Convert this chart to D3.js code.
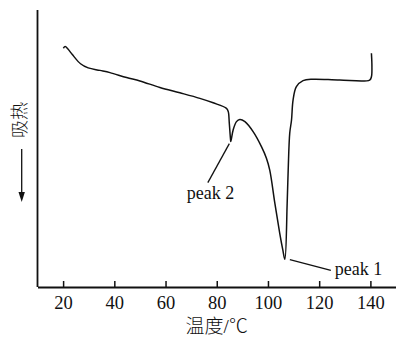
<!DOCTYPE html>
<html>
<head>
<meta charset="utf-8">
<script src="https://cdn.jsdelivr.net/npm/d3@7"></script>
<style>
  body { margin: 0; background: #fff; }
  svg text { fill: #111; }
</style>
</head>
<body>
<div id="chart"></div>
<script>
// DSC curve: temperature (°C) vs heat flow (arbitrary units)
const temps = [20.1, 20.8, 21.9, 23.6, 26.8, 29.8, 34.4, 38.3, 44.8, 50.0, 57.8, 65.6,
  73.4, 78.6, 83.8, 84.5, 84.9, 85.4, 85.5, 86.4, 87.7, 89.0, 91.0, 94.2, 97.5, 99.4, 100.7,
  102.7, 104.6, 105.8, 106.6, 107.5, 107.9, 108.5, 109.2, 109.8, 111.1, 113.7, 117.6, 128.0,
  139.7, 140.4, 140.6, 140.4];
const heatFlow = [86.2, 86.8, 85.9, 83.9, 80.6, 79.1, 78.2, 77.4, 75.6, 74.4, 72.0, 70.1,
  68.1, 66.5, 64.5, 63.3, 59.1, 53.1, 52.5, 56.7, 59.7, 60.5, 59.7, 56.1, 50.6, 46.5, 42.2,
  30.2, 19.4, 13.4, 10.0, 30.2, 42.2, 55.5, 60.3, 67.5, 72.3, 74.5, 75.0, 74.7,
  74.7, 75.9, 79.5, 84.4];
const xTicks = [20, 40, 60, 80, 100, 120, 140];
const peakNames = ['peak 2', 'peak 1'];
const peakTemps = [85.5, 106.6];
const peakFlows = [52.5, 10.0];

const width = 396, height = 340;
const margin = { top: 10, right: 0, bottom: 53, left: 37.5 };

const svg = d3.select('#chart')
  .append('svg')
  .attr('width', width)
  .attr('height', height);

const x = d3.scaleLinear()
  .domain([10, 150])
  .range([margin.left, width - margin.right]);
const y = d3.scaleLinear()
  .domain([0, 100])
  .range([height - margin.bottom, margin.top]);

const serif = '"Liberation Serif", "Times New Roman", serif';
const cjk = '"Noto Sans CJK SC", sans-serif';

// x axis, ticks pointing inward
svg.append('g')
  .attr('transform', 'translate(0,' + (height - margin.bottom) + ')')
  .call(d3.axisBottom(x).tickValues(xTicks).tickSizeInner(-6).tickSizeOuter(0).tickPadding(9))
  .call(g => g.select('.domain').attr('stroke', '#111').attr('stroke-width', 1.8))
  .call(g => g.selectAll('.tick line').attr('stroke', '#111').attr('stroke-width', 1.5))
  .call(g => g.selectAll('.tick text')
    .attr('font-family', serif)
    .attr('font-size', 18.5)
    .attr('fill', '#111'));

// y axis: plain line, no ticks
svg.append('line')
  .attr('x1', margin.left).attr('x2', margin.left)
  .attr('y1', margin.top).attr('y2', height - margin.bottom)
  .attr('stroke', '#111')
  .attr('stroke-width', 1.8);

// axis titles
svg.append('text')
  .attr('x', (margin.left + width - margin.right) / 2)
  .attr('y', 333)
  .attr('text-anchor', 'middle')
  .attr('font-family', serif + ', ' + cjk)
  .attr('font-size', 19)
  .attr('font-weight', 300)
  .text('温度/℃');

svg.append('text')
  .attr('transform', 'translate(26,120) rotate(-90)')
  .attr('text-anchor', 'middle')
  .attr('font-family', cjk)
  .attr('font-size', 18)
  .attr('font-weight', 300)
  .text('吸热');

// arrow under the y title
svg.append('line')
  .attr('x1', 21.7).attr('x2', 21.7)
  .attr('y1', 149).attr('y2', 194)
  .attr('stroke', '#111')
  .attr('stroke-width', 1.3);
svg.append('path')
  .attr('d', 'M18.5,192L24.9,192L21.7,202Z')
  .attr('fill', '#111');

// the curve
const pts = temps.map((t, i) => [t, heatFlow[i]]);
const line = d3.line()
  .x(d => x(d[0]))
  .y(d => y(d[1]))
  .curve(d3.curveCatmullRom.alpha(0.5));
svg.append('path')
  .datum(pts)
  .attr('fill', 'none')
  .attr('stroke', '#111')
  .attr('stroke-width', 1.5)
  .attr('d', line);

// peak labels with leader lines
const leaders = [
  { from: [-1.5, 2], to: [-23, 41], text: [-44, 57.5] },
  { from: [5, 0.3], to: [46, 11], text: [50, 16] },
];
peakNames.forEach((name, i) => {
  const px = x(peakTemps[i]), py = y(peakFlows[i]);
  const l = leaders[i];
  svg.append('line')
    .attr('x1', px + l.from[0]).attr('y1', py + l.from[1])
    .attr('x2', px + l.to[0]).attr('y2', py + l.to[1])
    .attr('stroke', '#111')
    .attr('stroke-width', 1.3);
  svg.append('text')
    .attr('x', px + l.text[0])
    .attr('y', py + l.text[1])
    .attr('font-family', serif)
    .attr('font-size', 18)
    .text(name);
});
</script>
</body>
</html>
